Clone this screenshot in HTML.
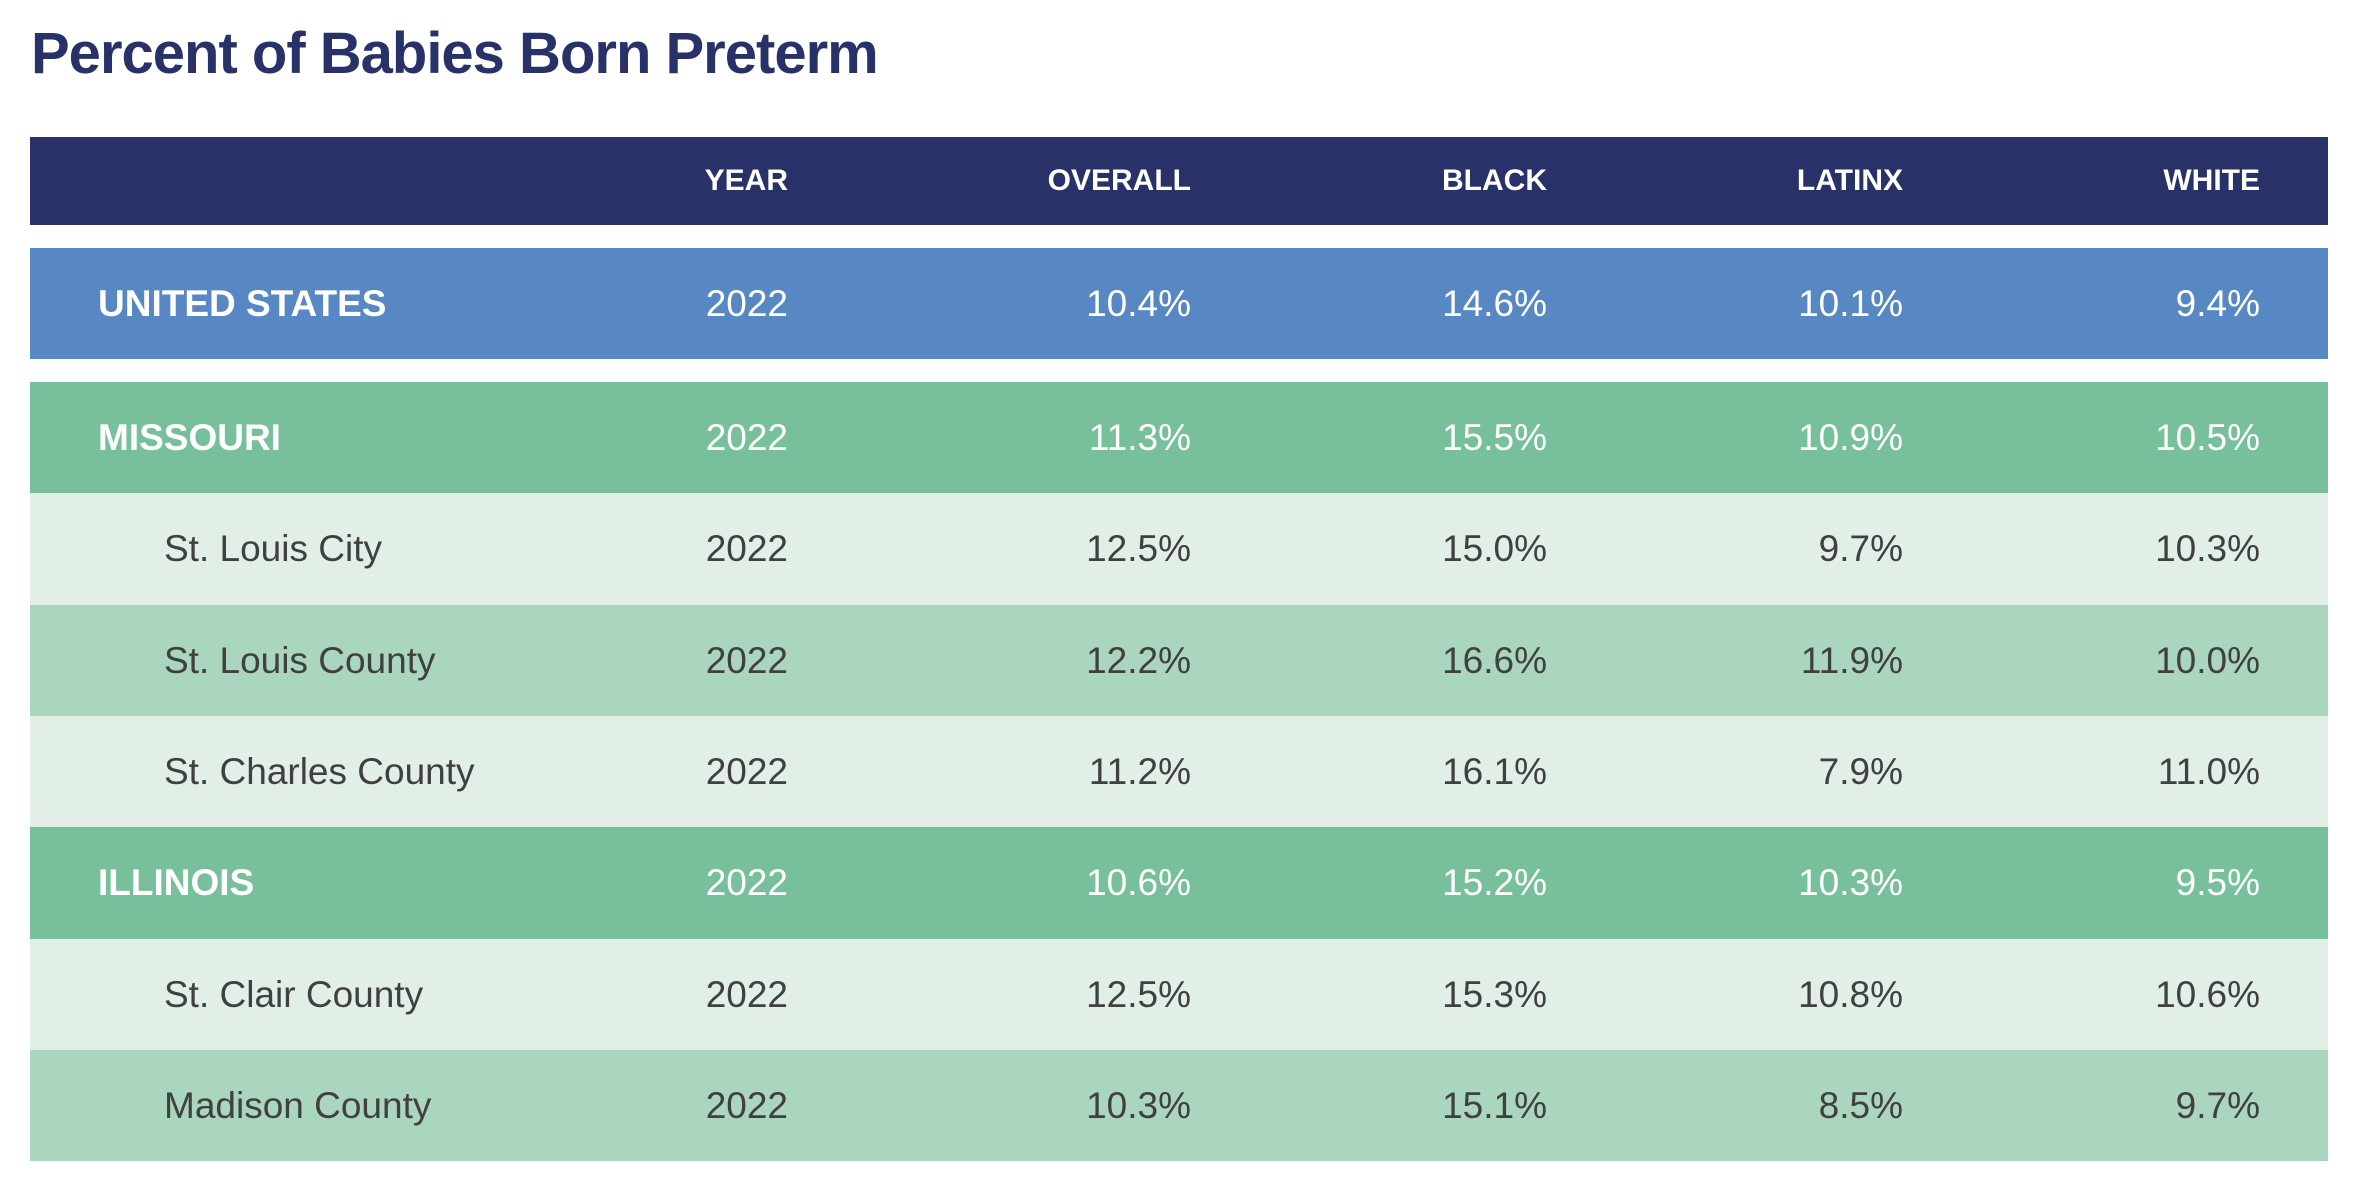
<!DOCTYPE html>
<html><head><meta charset="utf-8"><style>
body{margin:0;width:2366px;height:1196px;background:#fff;font-family:"Liberation Sans",sans-serif;position:relative;overflow:hidden}
.t{position:absolute;left:31px;top:20px;font-size:58px;font-weight:bold;color:#283269;letter-spacing:-1px}
.r{position:absolute;left:30px;width:2298px}
.c{position:absolute;top:0;height:100%;display:flex;align-items:center;white-space:nowrap}
.n{justify-content:flex-end}
</style></head><body>
<div class="t">Percent of Babies Born Preterm</div>
<div id="tbl"></div>
<script>
const rows=[
["",["YEAR","OVERALL","BLACK","LATINX","WHITE"],137,88,"#283269","#fff",0,30,true],
["UNITED STATES",["2022","10.4%","14.6%","10.1%","9.4%"],248,111,"#5788c4","#fff",0,37,false],
["MISSOURI",["2022","11.3%","15.5%","10.9%","10.5%"],382,111,"#78c09b","#fff",0,37,false],
["St. Louis City",["2022","12.5%","15.0%","9.7%","10.3%"],493,112,"#e1efe6","#404040",1,37,false],
["St. Louis County",["2022","12.2%","16.6%","11.9%","10.0%"],605,111,"#aad5be","#404040",1,37,false],
["St. Charles County",["2022","11.2%","16.1%","7.9%","11.0%"],716,111,"#e1efe6","#404040",1,37,false],
["ILLINOIS",["2022","10.6%","15.2%","10.3%","9.5%"],827,112,"#78c09b","#fff",0,37,false],
["St. Clair County",["2022","12.5%","15.3%","10.8%","10.6%"],939,111,"#e1efe6","#404040",1,37,false],
["Madison County",["2022","10.3%","15.1%","8.5%","9.7%"],1050,111,"#aad5be","#404040",1,37,false]];
const rights=[788,1191,1547,1903,2260];
let h="";
for(const [lab,vals,top,ht,bg,col,sub,fs,hdr] of rows){
 const bold=(sub?"normal":"bold");
 h+=`<div class="r" style="top:${top}px;height:${ht}px;background:${bg};color:${col};font-size:${fs}px">`;
 h+=`<div class="c" style="left:${sub?134:68}px;font-weight:${bold}">${lab}</div>`;
 vals.forEach((v,i)=>{h+=`<div class="c n" style="right:${2328-rights[i]}px;font-weight:${hdr?'bold':'normal'}">${v}</div>`});
 h+=`</div>`;
}
document.getElementById("tbl").innerHTML=h;
</script>
</body></html>
